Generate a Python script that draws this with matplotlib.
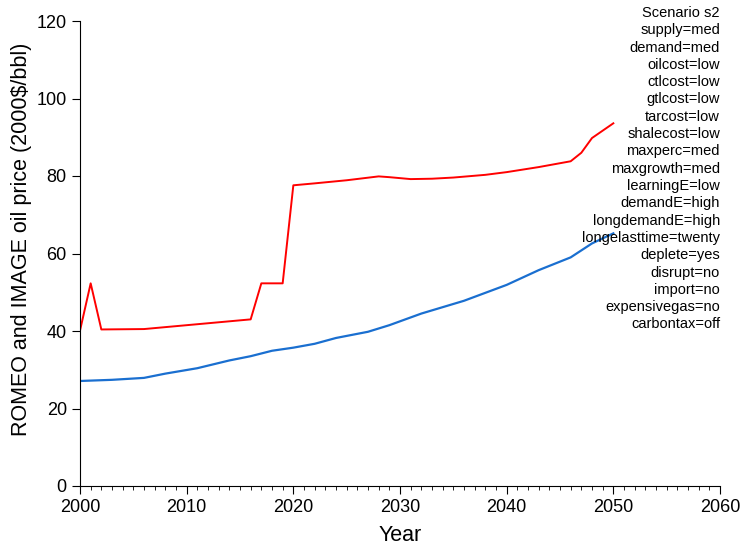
import matplotlib
matplotlib.use('Agg')
import matplotlib.pyplot as plt
from matplotlib.ticker import MultipleLocator

plt.rcParams['font.family'] = ['Liberation Sans', 'DejaVu Sans']

# ROMEO oil price (red)
red_years = [2000, 2001, 2002, 2006, 2016, 2017, 2019, 2020, 2022, 2025, 2028, 2029,
             2031, 2033, 2035, 2038, 2040, 2043, 2046, 2047, 2048, 2050]
red_vals = [40.1, 52.3, 40.4, 40.5, 43.0, 52.3, 52.3, 77.6, 78.1, 78.9, 79.9, 79.7,
            79.2, 79.3, 79.6, 80.3, 81.0, 82.3, 83.8, 86.0, 89.8, 93.6]

# IMAGE oil price (blue)
blue_years = [2000, 2003, 2006, 2008, 2011, 2014, 2016, 2018, 2020, 2022, 2024, 2027,
              2029, 2032, 2036, 2040, 2043, 2046, 2048, 2050]
blue_vals = [27.1, 27.4, 27.9, 29.0, 30.4, 32.4, 33.5, 34.9, 35.7, 36.7, 38.2, 39.8,
             41.5, 44.5, 47.8, 51.9, 55.7, 59.0, 62.6, 65.2]

scenario_lines = ["Scenario s2", "supply=med", "demand=med", "oilcost=low", "ctlcost=low",
                  "gtlcost=low", "tarcost=low", "shalecost=low", "maxperc=med",
                  "maxgrowth=med", "learningE=low", "demandE=high", "longdemandE=high",
                  "longelasttime=twenty", "deplete=yes", "disrupt=no", "import=no",
                  "expensivegas=no", "carbontax=off"]

fig = plt.figure(figsize=(7.42, 5.48), dpi=100)
ax = fig.add_axes([80 / 742, 1 - 486 / 548, 640 / 742, 465 / 548])

ax.plot(red_years, red_vals, color='#ff0000', lw=1.4)
ax.plot(blue_years, blue_vals, color='#1a6fd0', lw=1.6)

ax.set_xlim(2000, 2060)
ax.set_ylim(0, 120)
ax.xaxis.set_major_locator(MultipleLocator(10))
ax.xaxis.set_minor_locator(MultipleLocator(1))
ax.yaxis.set_major_locator(MultipleLocator(20))

for s in ['top', 'right']:
    ax.spines[s].set_visible(False)
ax.tick_params(axis='both', which='major', direction='out', length=6, labelsize=13)
ax.tick_params(axis='x', which='minor', direction='out', length=3)

ax.set_xlabel('Year', fontsize=15.5, labelpad=6)
ax.set_ylabel('ROMEO and IMAGE oil price (2000$/bbl)', fontsize=15.5, labelpad=3)
ax.yaxis.set_label_coords(-0.075, 0.531)

fig.text(720 / 742, 1 - 6 / 548, "\n".join(scenario_lines), ha='right', va='top',
         fontsize=10.5, linespacing=1.3)

fig.savefig('out.png', dpi=100)
